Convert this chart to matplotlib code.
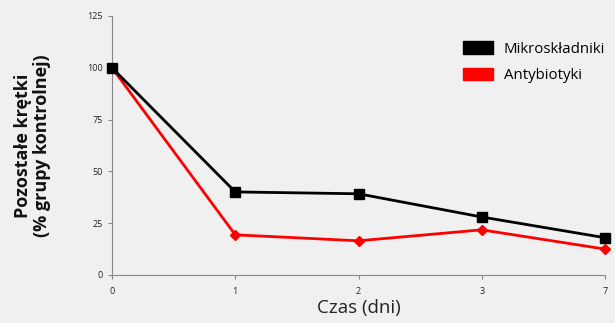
import matplotlib
matplotlib.use("Agg")
import matplotlib.pyplot as plt
import matplotlib.patches as mpatches

plt.rcParams['font.family'] = ['Open Sans', 'DejaVu Sans']

dni = ['0', '1', '2', '3', '7']
mikro = [100, 40.1, 39.2, 28.0, 18.0]
anty = [100, 19.4, 16.5, 21.8, 12.5]

bg = '#f0f0f0'
fig = plt.figure(figsize=(6.15, 3.23), dpi=100, facecolor=bg)
ax = fig.add_axes([112/615, 48/323, 493/615, 259/323], facecolor=bg)

x = range(len(dni))
ax.plot(x, anty, color='#ff0000', lw=2, marker='D', ms=5, clip_on=False, zorder=3)
ax.plot(x, mikro, color='black', lw=2, marker='s', ms=7, clip_on=False, zorder=4)

ax.set_xlim(0, len(dni) - 1)
ax.set_ylim(0, 125)
ax.set_yticks([0, 25, 50, 75, 100, 125])
ax.set_xticks(list(x))
ax.set_xticklabels(dni)
for s in ['top', 'right']:
    ax.spines[s].set_visible(False)
for s in ['left', 'bottom']:
    ax.spines[s].set_color('#888888')
ax.tick_params(colors='#888888', labelcolor='#222222', labelsize=6.5, length=3, width=0.8)
ax.tick_params(axis='x', pad=6)

ax.set_xlabel('Czas (dni)', fontsize=13.5, color='#222222', labelpad=2)
ax.set_ylabel('Pozostałe krętki\n(% grupy kontrolnej)', fontsize=13, fontweight='bold',
              color='#111111', labelpad=26, linespacing=1.05)

handles = [mpatches.FancyBboxPatch((0, 0), 1, 1, boxstyle='round,pad=0.05', color='black'),
           mpatches.FancyBboxPatch((0, 0), 1, 1, boxstyle='round,pad=0.05', color='#ff0000')]
ax.legend(handles, ['Mikroskładniki', 'Antybiotyki'], loc='upper left',
          bbox_to_anchor=(0.685, 0.955), frameon=False, fontsize=10.8,
          handlelength=2.0, handleheight=0.9, handletextpad=0.7, labelspacing=0.75)

fig.savefig('out.png', dpi=100, facecolor=bg)
